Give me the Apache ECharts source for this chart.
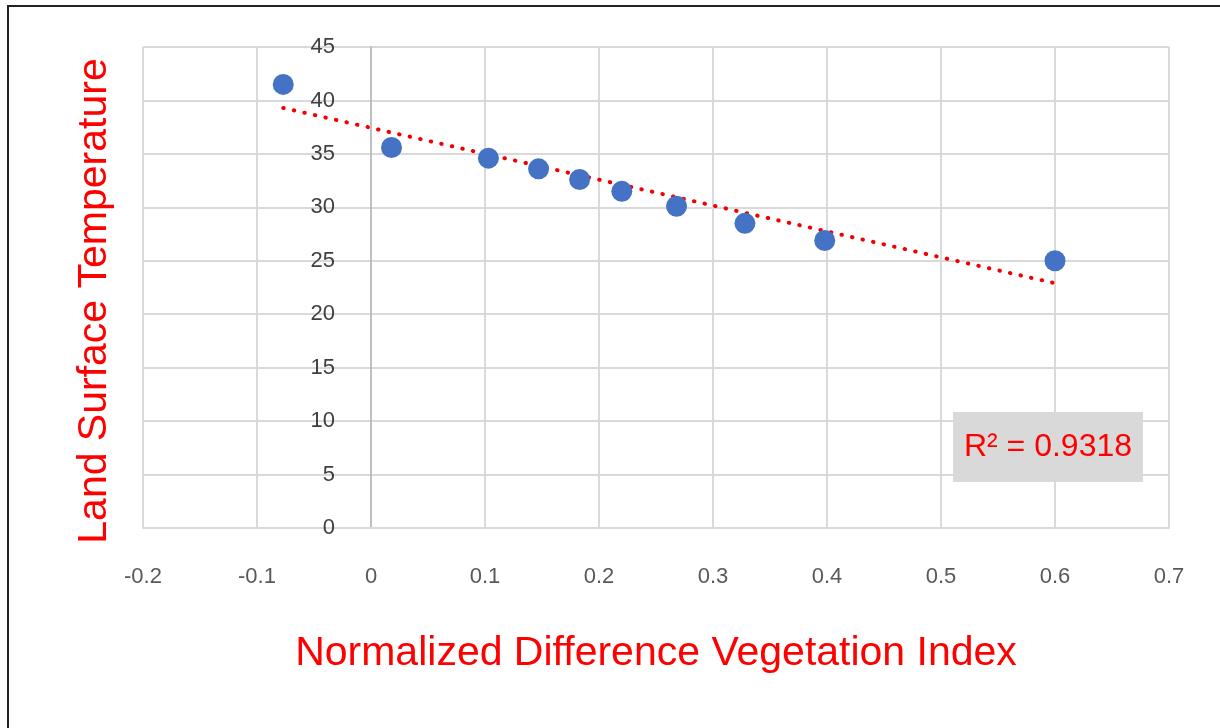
<!DOCTYPE html>
<html>
<head>
<meta charset="utf-8">
<script src="https://cdn.jsdelivr.net/npm/echarts@6/dist/echarts.min.js"></script>
<style>
  html, body { margin: 0; padding: 0; background: #fff; }
  #chart { width: 1220px; height: 728px; }
</style>
</head>
<body>
<div id="chart"></div>
<script>
// NDVI vs LST points
var ndvi = [-0.077, 0.018, 0.103, 0.147, 0.183, 0.22, 0.268, 0.328, 0.398, 0.6];
var lst = [41.5, 35.6, 34.6, 33.6, 32.6, 31.5, 30.1, 28.5, 26.9, 25.0];
// linear trendline end points (as drawn)
var trendX = [-0.077, 0.6];
var trendY = [39.3, 22.9];
var r2Label = "R\u00b2 = 0.9318";

var chartDom = document.getElementById("chart");
var myChart = echarts.init(chartDom);
var font = "'Liberation Sans', Arial, sans-serif";
var red = "#ff0000";

var option = {
  backgroundColor: "#fff",
  animation: false,
  grid: { left: 143, top: 47, right: 51, bottom: 200 },
  xAxis: {
    type: "value",
    min: -0.2,
    max: 0.7,
    interval: 0.1,
    axisLine: { show: true, lineStyle: { color: "#d9d9d9", width: 2 } },
    axisTick: { show: false },
    axisLabel: {
      margin: 38,
      fontSize: 22,
      fontFamily: font,
      color: "#595959",
      formatter: function (v) { return Math.round(v * 10) / 10; },
    },
    splitLine: { show: true, lineStyle: { color: "#d9d9d9", width: 2 } },
    name: "Normalized Difference Vegetation Index",
    nameLocation: "middle",
    nameGap: 105,
    nameTextStyle: { color: red, fontSize: 41, fontFamily: font },
  },
  yAxis: {
    type: "value",
    min: 0,
    max: 45,
    interval: 5,
    axisLine: { show: true, onZero: true, lineStyle: { color: "#bfbfbf", width: 2 } },
    axisTick: { show: false },
    axisLabel: {
      // labels sit next to the x = 0 line, not at the grid edge
      margin: -192,
      fontSize: 22,
      fontFamily: font,
      color: "#404040",
      verticalAlign: "middle",
      padding: [0, 0, 6, 0],
    },
    splitLine: { show: true, lineStyle: { color: "#d9d9d9", width: 2 } },
  },
  series: [
    {
      name: "Trend",
      type: "line",
      data: trendX.map(function (x, i) { return [x, trendY[i]]; }),
      showSymbol: false,
      symbol: "none",
      lineStyle: { color: "#f00000", width: 4, type: [0.5, 10.3], cap: "round" },
      z: 3,
    },
    {
      name: "LST",
      type: "scatter",
      data: ndvi.map(function (x, i) { return [x, lst[i]]; }),
      symbolSize: 21,
      itemStyle: { color: "#4472c4", opacity: 1 },
      z: 4,
    },
  ],
  graphic: [
    {
      type: "text",
      x: 95,
      y: 301,
      rotation: Math.PI / 2,
      style: {
        text: "Land Surface Temperature",
        fill: red,
        font: "41px " + font,
        textAlign: "center",
        textVerticalAlign: "middle",
      },
    },
    {
      type: "rect",
      shape: { x: 953, y: 412, width: 190, height: 70 },
      style: { fill: "#d9d9d9" },
      z: 10,
    },
    {
      type: "text",
      x: 1048,
      y: 447,
      style: {
        text: r2Label,
        fill: red,
        font: "32px " + font,
        textAlign: "center",
        textVerticalAlign: "middle",
      },
      z: 11,
    },
    {
      type: "rect",
      shape: { x: 8, y: 6, width: 1240, height: 760 },
      style: { fill: null, stroke: "#222", lineWidth: 2 },
      z: 20,
    },
  ],
};
myChart.setOption(option);
</script>
</body>
</html>
